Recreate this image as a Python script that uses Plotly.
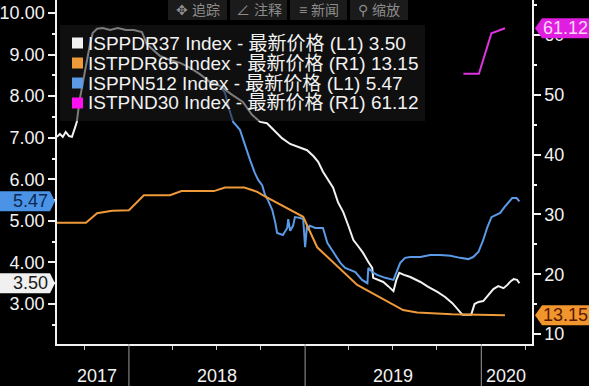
import plotly.graph_objects as go

# ---------------- data ----------------
white_dates = ["2017-08-05", "2017-08-11", "2017-08-17", "2017-08-23", "2017-08-30", "2017-09-05",
               "2017-09-11", "2017-09-15", "2017-09-21", "2017-09-30", "2017-10-06", "2017-10-12",
               "2017-10-18", "2017-10-27", "2017-11-08", "2017-11-23", "2017-12-09", "2017-12-26",
               "2018-01-11", "2018-01-28", "2018-02-07", "2018-02-20", "2018-03-06", "2018-03-27",
               "2018-04-17", "2018-05-08", "2018-05-28", "2018-06-18", "2018-07-09", "2018-08-03",
               "2018-08-25", "2018-09-13", "2018-09-30", "2018-10-14", "2018-10-31", "2018-11-14",
               "2018-12-01", "2018-12-18", "2019-01-05", "2019-01-18", "2019-01-28", "2019-02-07",
               "2019-02-18", "2019-02-28", "2019-03-10", "2019-03-21", "2019-03-31", "2019-04-11",
               "2019-04-21", "2019-05-01", "2019-05-12", "2019-05-20", "2019-05-22", "2019-06-01",
               "2019-06-12", "2019-06-22", "2019-07-03", "2019-07-09", "2019-07-15", "2019-07-25",
               "2019-08-07", "2019-08-28", "2019-09-13", "2019-10-02", "2019-10-18", "2019-11-02",
               "2019-11-14", "2019-11-23", "2019-12-03", "2019-12-11", "2019-12-18", "2019-12-26",
               "2020-01-05", "2020-01-16", "2020-01-26", "2020-02-05", "2020-02-16", "2020-02-24",
               "2020-03-02", "2020-03-08", "2020-03-15", "2020-03-20"]
white_vals = [7.02, 7.09, 7.02, 7.14, 7.04, 7.02,
              7.23, 7.38, 7.91, 8.51, 8.87, 9.23,
              9.52, 9.62, 9.64, 9.59, 9.64, 9.59,
              9.59, 9.54, 9.25, 9.11, 8.97, 8.87,
              8.80, 8.68, 8.53, 8.34, 8.24, 8.03,
              7.86, 7.55, 7.38, 7.35, 7.14, 6.99,
              6.85, 6.78, 6.70, 6.56, 6.42, 6.18,
              5.98, 5.80, 5.45, 5.21, 4.90, 4.54,
              4.39, 4.23, 4.01, 3.87, 3.63, 3.58,
              3.53, 3.43, 3.31, 3.58, 3.75, 3.70,
              3.65, 3.53, 3.41, 3.29, 3.17, 3.02,
              2.86, 2.74, 2.74, 2.74, 3.00, 3.05,
              3.07, 3.22, 3.36, 3.43, 3.38, 3.46,
              3.55, 3.60, 3.58, 3.50]

orange_dates = ["2017-08-05", "2017-10-04", "2017-10-27", "2017-11-27", "2018-01-01", "2018-02-01",
                "2018-03-27", "2018-04-20", "2018-06-26", "2018-07-19", "2018-08-28", "2018-09-23",
                "2018-10-06", "2018-12-28", "2019-01-26", "2019-04-19", "2019-07-23", "2019-08-21",
                "2019-11-01", "2020-02-19"]
orange_vals = [28.6, 28.6, 30.2, 30.6, 30.7, 33.2,
               33.2, 33.9, 33.9, 34.5, 34.5, 33.8,
               33.2, 29.6, 24.5, 18.2, 14.0, 13.6,
               13.3, 13.15]

blue_dates = ["2018-07-09", "2018-07-19", "2018-07-27", "2018-08-05", "2018-08-19", "2018-08-30",
              "2018-09-09", "2018-09-19", "2018-09-26", "2018-10-04", "2018-10-10", "2018-10-16",
              "2018-10-25", "2018-10-31", "2018-11-04", "2018-11-16", "2018-11-25", "2018-11-27",
              "2018-12-01", "2018-12-07", "2018-12-11", "2018-12-22", "2018-12-28", "2019-01-01",
              "2019-01-05", "2019-01-07", "2019-01-11", "2019-01-22", "2019-02-07", "2019-02-16",
              "2019-02-28", "2019-03-15", "2019-03-25", "2019-04-04", "2019-04-15", "2019-04-29",
              "2019-05-10", "2019-05-12", "2019-05-20", "2019-05-30", "2019-06-16", "2019-07-03",
              "2019-07-11", "2019-07-17", "2019-07-27", "2019-08-07", "2019-08-28", "2019-09-17",
              "2019-10-08", "2019-10-29", "2019-11-18", "2019-12-05", "2019-12-15", "2019-12-26",
              "2020-01-05", "2020-01-13", "2020-01-22", "2020-01-30", "2020-02-09", "2020-02-18",
              "2020-02-26", "2020-03-05", "2020-03-14", "2020-03-20"]
blue_vals = [8.24, 8.08, 7.71, 7.38, 7.19, 6.78,
             6.46, 6.15, 5.98, 5.86, 5.62, 5.50,
             5.26, 4.97, 4.71, 4.66, 4.83, 5.04,
             4.76, 4.88, 5.09, 5.07, 5.04, 4.37,
             4.90, 4.78, 4.88, 4.83, 4.83, 4.47,
             4.25, 3.99, 3.87, 3.82, 3.77, 3.58,
             3.50, 3.87, 3.77, 3.70, 3.63, 3.58,
             3.82, 3.99, 4.11, 4.13, 4.13, 4.18,
             4.18, 4.16, 4.11, 4.08, 4.13, 4.25,
             4.54, 4.83, 5.09, 5.14, 5.19, 5.33,
             5.43, 5.55, 5.55, 5.47]

magenta_dates = ["2019-11-25", "2019-12-27", "2020-01-22", "2020-02-19"]
magenta_vals = [53.5, 53.5, 60.3, 61.12]

series_names = ["ISPPDR37", "ISTPDR65", "ISPPN512", "ISTPND30"]
series_axes = ["L1", "R1", "L1", "R1"]
left_ticks = [3, 4, 5, 6, 7, 8, 9, 10]
right_ticks = [10, 20, 30, 40, 50, 60]
quarter_ticks = ["2017-10-01", "2018-04-01", "2018-07-01", "2018-10-01",
                 "2019-04-01", "2019-07-01", "2019-10-01", "2020-04-01"]
year_starts = ["2018-01-01", "2019-01-01", "2020-01-01"]
year_labels = ["2017", "2018", "2019", "2020"]
year_label_dates = ["2017-10-26", "2018-07-02", "2019-07-02", "2020-02-22"]
toolbar_labels = ["✥ 追踪", "∠ 注释", "≡ 新闻", "⚲ 缩放"]

# ---------------- style / layout ----------------
W, H = 589, 386
ML, MR, MT, MB = 57, 57, 0, 42
PW, PH = W - ML - MR, H - MT - MB
FONT = "Liberation Sans, Arial, Noto Sans CJK SC, sans-serif"

WHITE = "#f2f2f2"
ORANGE = "#ee9a3a"
BLUE = "#5a9ae6"
MAGENTA = "#e033e0"
colors = [WHITE, ORANGE, BLUE, MAGENTA]


def px(x):
    return (x - ML) / PW


def py(y):
    return (PH + MT - y) / PH


fig = go.Figure()
all_series = [(white_dates, white_vals), (orange_dates, orange_vals),
              (blue_dates, blue_vals), (magenta_dates, magenta_vals)]
for (d, v), name, ax, c in zip(all_series, series_names, series_axes, colors):
    fig.add_trace(go.Scatter(x=d, y=v, mode="lines", name=name,
                             line=dict(color=c, width=2),
                             yaxis="y" if ax == "L1" else "y2",
                             hoverinfo="skip", showlegend=False))

shapes = []
annotations = []

# year separators & year labels
for ys in year_starts:
    shapes.append(dict(type="line", xref="x", yref="paper", x0=ys, x1=ys,
                       y0=0, y1=-MB / PH, line=dict(color="#9a9a9a", width=1)))
for lab, d in zip(year_labels, year_label_dates):
    annotations.append(dict(xref="x", yref="paper", x=d, y=py(376), text=lab,
                            showarrow=False, xanchor="center", yanchor="middle",
                            font=dict(size=18, color=WHITE, family=FONT)))

# legend box (semi-transparent, above lines)
shapes.append(dict(type="rect", xref="paper", yref="paper", layer="above",
                   x0=px(60), x1=px(425), y0=py(25), y1=py(121),
                   fillcolor="rgba(28,28,28,0.55)", line=dict(width=0)))
legend_colors = [WHITE, ORANGE, BLUE, "#ff10f0"]
all_last = [white_vals[-1], orange_vals[-1], blue_vals[-1], magenta_vals[-1]]
for i, (name, ax, c, last) in enumerate(zip(series_names, series_axes, legend_colors, all_last)):
    yc = 43 + 20 * i
    shapes.append(dict(type="rect", xref="paper", yref="paper", layer="above",
                       x0=px(72), x1=px(83), y0=py(yc - 5.5), y1=py(yc + 5.5),
                       fillcolor=c, line=dict(width=0)))
    annotations.append(dict(xref="paper", yref="paper", x=px(86), y=py(yc),
                            text=f"{name} Index - 最新价格 ({ax}) {last:.2f}",
                            showarrow=False, xanchor="left", yanchor="middle",
                            font=dict(size=19, color=WHITE, family=FONT)))

# toolbar
tb_x = [(168, 227), (230, 287), (290, 347), (350, 408)]
for (x0, x1), lab in zip(tb_x, toolbar_labels):
    shapes.append(dict(type="rect", xref="paper", yref="paper", layer="above",
                       x0=px(x0), x1=px(x1), y0=py(20), y1=py(0),
                       fillcolor="#1b1b1b", line=dict(width=0)))
    annotations.append(dict(xref="paper", yref="paper", x=px((x0 + x1) / 2), y=py(10),
                            text=lab, showarrow=False, xanchor="center", yanchor="middle",
                            font=dict(size=14, color="#8c8c8c", family=FONT)))

# last-value tags
tags = [
    ("left", "y", white_vals[-1], "#f0f0f0", "#1a1a1a"),
    ("left", "y", blue_vals[-1], "#4b93e6", "#0d2850"),
    ("right", "y2", orange_vals[-1], "#f0962c", "#5a1800"),
    ("right", "y2", magenta_vals[-1], "#e01ee0", "#ffd6ff"),
]
for side, yref, val, fill, tc in tags:
    if side == "left":
        path = "M -57,-10 L -7,-10 L -2,0 L -7,10 L -57,10 Z"
        xa, xs = 0, -27
    else:
        path = "M 3,0 L 10,-10 L 60,-10 L 60,10 L 10,10 Z"
        xa, xs = 1, 33
    shapes.append(dict(type="path", xref="paper", yref=yref, layer="above",
                       xsizemode="pixel", ysizemode="pixel", xanchor=xa, yanchor=val,
                       path=path, fillcolor=fill, line=dict(width=0)))
    annotations.append(dict(xref="paper", yref=yref, x=xa, y=val, xshift=xs,
                            text=f"{val:.2f}", showarrow=False,
                            xanchor="center", yanchor="middle",
                            font=dict(size=18, color=tc, family=FONT)))

fig.update_layout(
    width=W, height=H,
    margin=dict(l=ML, r=MR, t=MT, b=MB, pad=0, autoexpand=False),
    paper_bgcolor="#000000", plot_bgcolor="#000000",
    font=dict(family=FONT, size=18, color=WHITE),
    showlegend=False,
    hovermode=False,
    xaxis=dict(type="date", range=["2017-08-05", "2020-04-15"], automargin=False,
               showgrid=False, zeroline=False,
               showline=True, linecolor=WHITE, linewidth=1.5,
               tickmode="array", tickvals=quarter_ticks, showticklabels=False,
               ticks="outside", ticklen=4, tickcolor="#cccccc", tickwidth=1),
    yaxis=dict(range=[2.038, 10.313], automargin=False, showgrid=False, zeroline=False,
               showline=True, linecolor=WHITE, linewidth=1.5,
               tickmode="array", tickvals=left_ticks,
               ticktext=[f"{t:.2f}" for t in left_ticks],
               ticks="outside", ticklen=7, tickwidth=2, tickcolor=WHITE,
               minor=dict(dtick=0.5, tick0=0, ticks="outside", ticklen=3,
                          tickcolor=WHITE, tickwidth=1.5),
               tickfont=dict(size=18, color=WHITE, family=FONT)),
    yaxis2=dict(range=[8.33, 65.85], automargin=False, overlaying="y", side="right",
                showgrid=False, zeroline=False,
                showline=True, linecolor=WHITE, linewidth=1.5,
                tickmode="array", tickvals=right_ticks,
                ticks="outside", ticklen=7, tickwidth=2, tickcolor=WHITE,
                minor=dict(dtick=5, tick0=0, ticks="outside", ticklen=3,
                           tickcolor=WHITE, tickwidth=1.5),
                tickfont=dict(size=18, color=WHITE, family=FONT)),
    shapes=shapes,
    annotations=annotations,
)

fig.write_html("out.html", config={"displayModeBar": False},
               post_script="document.body.style.margin='0';document.body.style.padding='0';"
                           "document.body.style.background='#000';document.body.style.overflow='hidden';")
